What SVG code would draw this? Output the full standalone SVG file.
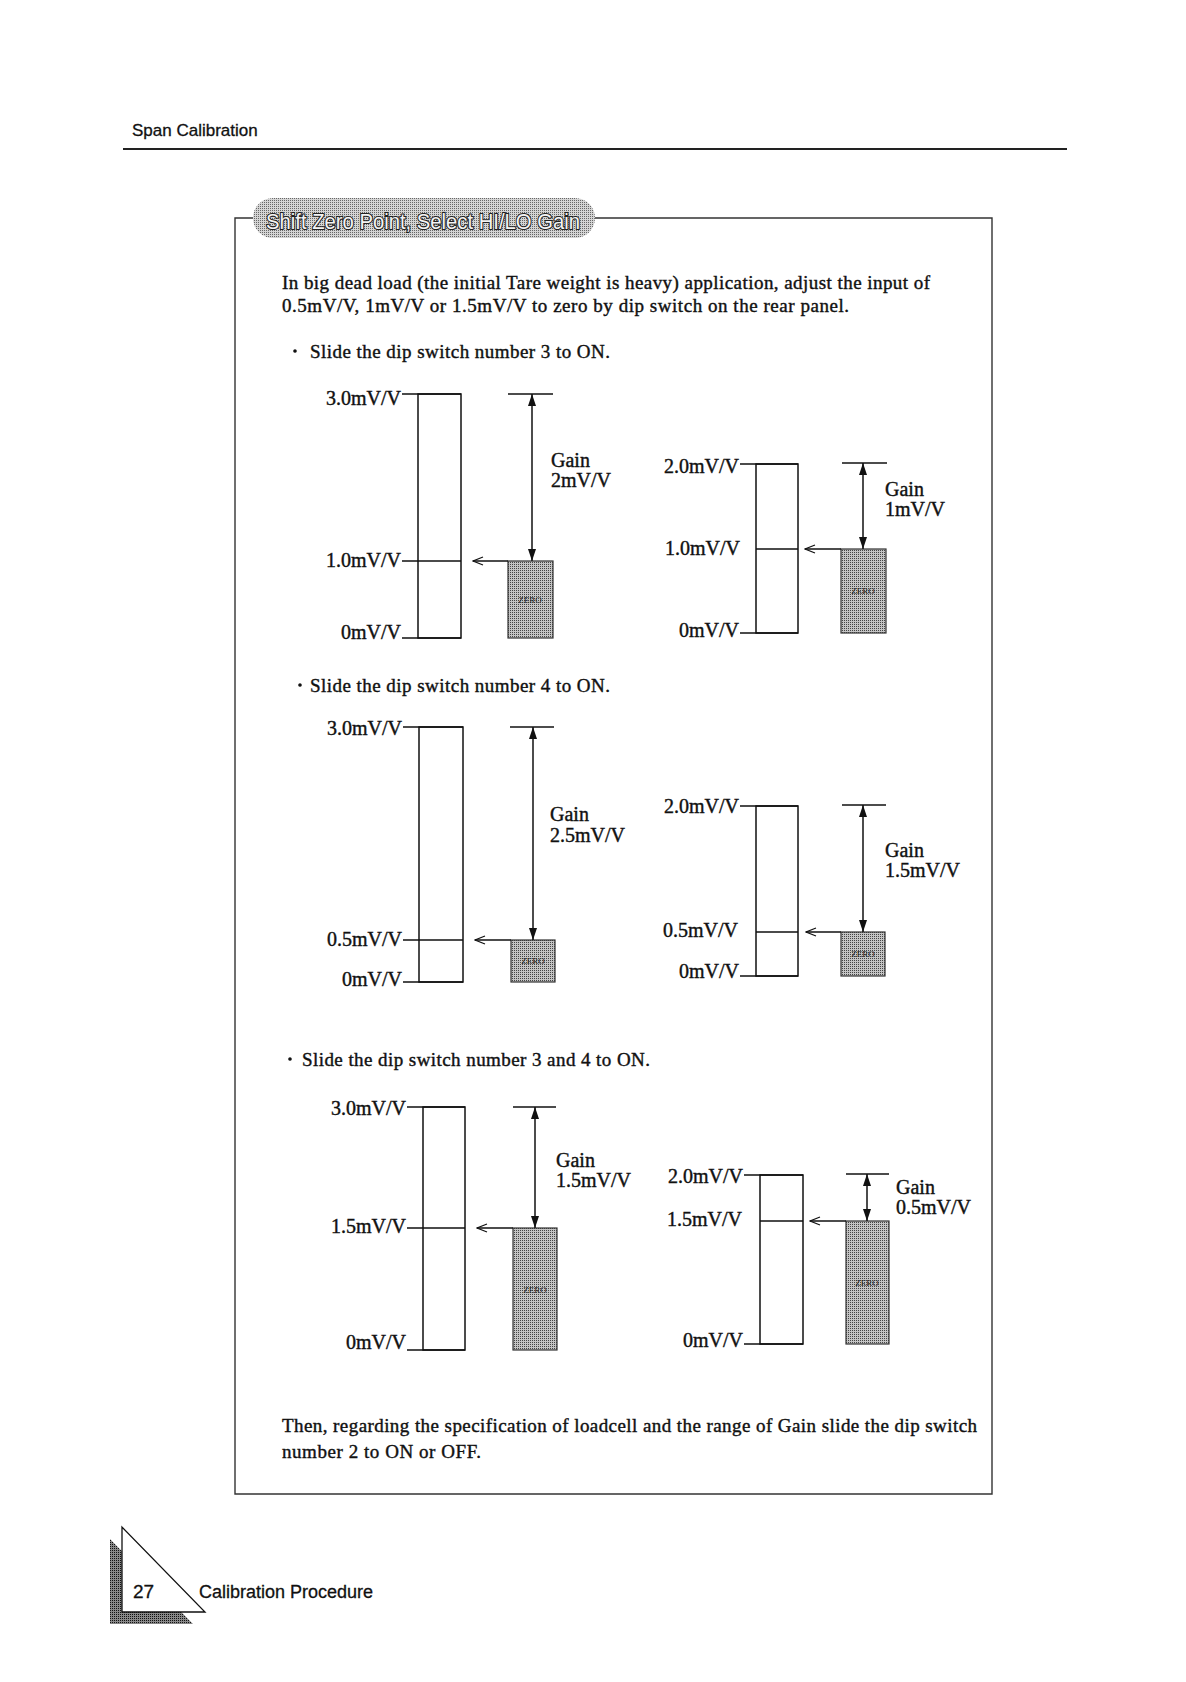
<svg xmlns="http://www.w3.org/2000/svg" width="1186" height="1682" viewBox="0 0 1186 1682">
<defs>
<style>
.sans{font-family:"Liberation Sans",Arial,sans-serif}
.ser{font-family:"Liberation Serif","Times New Roman",serif;fill:#111;stroke:#111;stroke-width:0.4}
.body{font-size:19px}
.lbl{font-size:20px}
.zt{font-family:"Liberation Serif",serif;font-size:9px;fill:#222;text-anchor:middle}
.ln{stroke:#111;stroke-width:1.3;fill:none}
.bar{fill:#fff;stroke:#111;stroke-width:1.5}
.zero{fill:url(#zpat);stroke:#333;stroke-width:1.2}
.arr{stroke:#111;stroke-width:1.5;fill:none;marker-start:url(#ah);marker-end:url(#ah)}
.larr{stroke:#111;stroke-width:1.3;fill:none;marker-end:url(#oh)}
</style>
<pattern id="zpat" width="2" height="2" patternUnits="userSpaceOnUse">
<rect width="2" height="2" fill="#c4c4c4"/><rect width="1" height="1" fill="#444"/>
</pattern>
<pattern id="ppat" width="2" height="2" patternUnits="userSpaceOnUse">
<rect width="2" height="2" fill="#d4d4d4"/><rect width="1" height="1" fill="#666"/>
</pattern>
<pattern id="spat" width="2" height="2" patternUnits="userSpaceOnUse">
<rect width="2" height="2" fill="#888"/><rect width="1" height="1" fill="#111"/>
</pattern>
<marker id="ah" viewBox="0 0 12 8" refX="12" refY="4" markerWidth="12" markerHeight="8" markerUnits="userSpaceOnUse" orient="auto-start-reverse">
<path d="M0,0 L12,4 L0,8 z" fill="#111"/>
</marker>
<marker id="oh" viewBox="0 0 12 10" refX="11" refY="5" markerWidth="12" markerHeight="10" markerUnits="userSpaceOnUse" orient="auto">
<path d="M1,1 L11,5 L1,9" fill="none" stroke="#111" stroke-width="1.3"/>
</marker>
</defs>
<rect width="1186" height="1682" fill="#fff"/>

<g id="header">
<text class="sans" x="132" y="136" font-size="17" fill="#111" stroke="#111" stroke-width="0.3">Span Calibration</text>
<line x1="123" y1="149" x2="1067" y2="149" stroke="#222" stroke-width="2"/>
</g>

<g id="frame">
<path d="M253,218 H235 V1494 H992 V218 H595" fill="none" stroke="#333" stroke-width="1.4"/>
<rect x="253" y="198" width="342" height="40" rx="20" fill="url(#ppat)"/>
<text class="sans" x="266" y="229" font-size="22" fill="#f4f4f4" stroke="#222" stroke-width="2.2" paint-order="stroke" textLength="314" lengthAdjust="spacingAndGlyphs">Shift Zero Point, Select HI/LO Gain</text>
</g>

<g id="intro" class="ser body">
<text x="282" y="289" textLength="648">In big dead load (the initial Tare weight is heavy) application, adjust the input of</text>
<text x="282" y="312" textLength="567">0.5mV/V, 1mV/V or 1.5mV/V to zero by dip switch on the rear panel.</text>
<circle cx="295" cy="351" r="1.6" fill="#111"/>
<text x="310" y="358" textLength="300">Slide the dip switch number 3 to ON.</text>
<circle cx="300" cy="685" r="1.6" fill="#111"/>
<text x="310" y="692" textLength="300">Slide the dip switch number 4 to ON.</text>
<circle cx="290" cy="1059" r="1.6" fill="#111"/>
<text x="302" y="1066" textLength="348">Slide the dip switch number 3 and 4 to ON.</text>
<text x="282" y="1432" textLength="695">Then, regarding the specification of loadcell and the range of Gain slide the dip switch</text>
<text x="282" y="1458" textLength="199">number 2 to ON or OFF.</text>
</g>

<!-- Section 1 left -->
<g id="s1-left">
<rect class="bar" x="418" y="394" width="43" height="244"/>
<path class="ln" d="M402,394 H461 M402,561 H461 M402,638 H461"/>
<text class="ser lbl" x="401" y="405" text-anchor="end">3.0mV/V</text>
<text class="ser lbl" x="401" y="567" text-anchor="end">1.0mV/V</text>
<text class="ser lbl" x="401" y="639" text-anchor="end">0mV/V</text>
<line class="ln" x1="508" y1="394" x2="553" y2="394"/>
<rect class="zero" x="508" y="561" width="45" height="77"/>
<text class="zt" x="530" y="603">ZERO</text>
<text class="ser lbl" x="551" y="467">Gain</text>
<text class="ser lbl" x="551" y="487">2mV/V</text>
</g>

<!-- Section 1 right -->
<g id="s1-right">
<rect class="bar" x="756" y="464" width="42" height="169"/>
<path class="ln" d="M740,464 H798 M756,549 H798 M740,633 H798"/>
<text class="ser lbl" x="739" y="473" text-anchor="end">2.0mV/V</text>
<text class="ser lbl" x="665" y="555">1.0mV/V</text>
<text class="ser lbl" x="739" y="637" text-anchor="end">0mV/V</text>
<line class="ln" x1="842" y1="463" x2="887" y2="463"/>
<rect class="zero" x="841" y="549" width="45" height="84"/>
<text class="zt" x="863" y="594">ZERO</text>
<text class="ser lbl" x="885" y="496">Gain</text>
<text class="ser lbl" x="885" y="516">1mV/V</text>
</g>

<!-- Section 2 left -->
<g id="s2-left">
<rect class="bar" x="419" y="727" width="44" height="255"/>
<path class="ln" d="M403,727 H463 M403,940 H463 M403,982 H463"/>
<text class="ser lbl" x="402" y="735" text-anchor="end">3.0mV/V</text>
<text class="ser lbl" x="402" y="946" text-anchor="end">0.5mV/V</text>
<text class="ser lbl" x="402" y="986" text-anchor="end">0mV/V</text>
<line class="ln" x1="510" y1="727" x2="554" y2="727"/>
<rect class="zero" x="511" y="940" width="44" height="42"/>
<text class="zt" x="533" y="964">ZERO</text>
<text class="ser lbl" x="550" y="821">Gain</text>
<text class="ser lbl" x="550" y="842">2.5mV/V</text>
</g>

<!-- Section 2 right -->
<g id="s2-right">
<rect class="bar" x="756" y="806" width="42" height="170"/>
<path class="ln" d="M740,806 H798 M756,932 H798 M740,976 H798"/>
<text class="ser lbl" x="739" y="813" text-anchor="end">2.0mV/V</text>
<text class="ser lbl" x="663" y="937">0.5mV/V</text>
<text class="ser lbl" x="739" y="978" text-anchor="end">0mV/V</text>
<line class="ln" x1="842" y1="805" x2="886" y2="805"/>
<rect class="zero" x="841" y="932" width="44" height="44"/>
<text class="zt" x="863" y="957">ZERO</text>
<text class="ser lbl" x="885" y="857">Gain</text>
<text class="ser lbl" x="885" y="877">1.5mV/V</text>
</g>

<!-- Section 3 left -->
<g id="s3-left">
<rect class="bar" x="423" y="1107" width="42" height="243"/>
<path class="ln" d="M407,1107 H465 M407,1228 H465 M407,1350 H465"/>
<text class="ser lbl" x="406" y="1115" text-anchor="end">3.0mV/V</text>
<text class="ser lbl" x="406" y="1233" text-anchor="end">1.5mV/V</text>
<text class="ser lbl" x="406" y="1349" text-anchor="end">0mV/V</text>
<line class="ln" x1="513" y1="1107" x2="556" y2="1107"/>
<rect class="zero" x="513" y="1228" width="44" height="122"/>
<text class="zt" x="535" y="1293">ZERO</text>
<text class="ser lbl" x="556" y="1167">Gain</text>
<text class="ser lbl" x="556" y="1187">1.5mV/V</text>
</g>

<!-- Section 3 right -->
<g id="s3-right">
<rect class="bar" x="760" y="1175" width="43" height="169"/>
<path class="ln" d="M744,1175 H803 M760,1221 H803 M744,1344 H803"/>
<text class="ser lbl" x="743" y="1183" text-anchor="end">2.0mV/V</text>
<text class="ser lbl" x="667" y="1226">1.5mV/V</text>
<text class="ser lbl" x="743" y="1347" text-anchor="end">0mV/V</text>
<line class="ln" x1="846" y1="1174" x2="889" y2="1174"/>
<rect class="zero" x="846" y="1221" width="43" height="123"/>
<text class="zt" x="867" y="1286">ZERO</text>
<text class="ser lbl" x="896" y="1194">Gain</text>
<text class="ser lbl" x="896" y="1214">0.5mV/V</text>
</g>

<g id="connectors">
<line class="arr" x1="532" y1="394" x2="532" y2="561"/>
<line class="larr" x1="508" y1="561" x2="473" y2="561"/>
<line class="arr" x1="863" y1="463" x2="863" y2="549"/>
<line class="larr" x1="841" y1="549" x2="805" y2="549"/>
<line class="arr" x1="533" y1="727" x2="533" y2="940"/>
<line class="larr" x1="511" y1="940" x2="475" y2="940"/>
<line class="arr" x1="863" y1="805" x2="863" y2="932"/>
<line class="larr" x1="841" y1="932" x2="806" y2="932"/>
<line class="arr" x1="535" y1="1107" x2="535" y2="1228"/>
<line class="larr" x1="513" y1="1228" x2="477" y2="1228"/>
<line class="arr" x1="867" y1="1174" x2="867" y2="1221"/>
<line class="larr" x1="846" y1="1221" x2="810" y2="1221"/>
</g>

<g id="footer">
<path d="M110,1539 L110,1624 L193,1624 Z" fill="url(#spat)"/>
<path d="M122,1527 L122,1612 L205,1612 Z" fill="#fff" stroke="#111" stroke-width="1.3"/>
<text class="sans" x="133" y="1598" font-size="19" fill="#111" stroke="#111" stroke-width="0.3">27</text>
<text class="sans" x="199" y="1598" font-size="18" fill="#111" stroke="#111" stroke-width="0.3">Calibration Procedure</text>
</g>
</svg>
